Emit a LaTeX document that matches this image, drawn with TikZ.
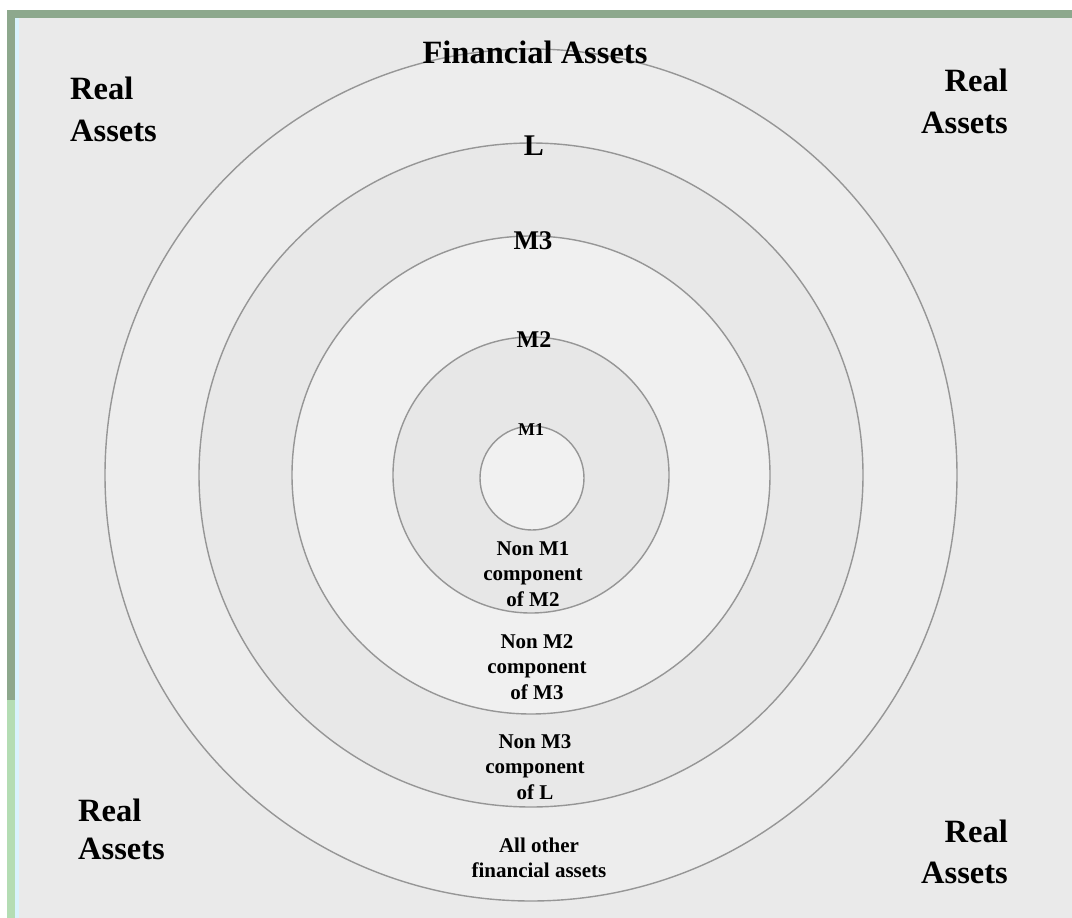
\documentclass[tikz,border=0pt]{standalone}
\usepackage{fontspec}
\setmainfont{Liberation Serif}
\definecolor{framegreen}{HTML}{8DA88D}
\definecolor{framelight}{HTML}{B4DDB4}
\definecolor{bg}{HTML}{EAEAEA}
\definecolor{ringline}{HTML}{969696}
\tikzset{
  ring/.style={draw=ringline, line width=1.4pt},
  biglabel/.style={font=\bfseries\fontsize{32.5}{40}\selectfont, inner sep=0pt},
  ringlabel/.style={font=\bfseries, inner sep=0pt},
  zonelabel/.style={font=\bfseries\fontsize{21}{25.5}\selectfont, align=center, inner sep=0pt},
}
\begin{document}
\begin{tikzpicture}[x=1pt,y=-1pt]
\useasboundingbox (0,0) rectangle (1072,918);
% frame
\fill[white] (0,0) rectangle (1072,918);
\fill[bg] (15,17) rectangle (1072,918);
\fill[framegreen] (7,10) rectangle (1072,18);
\fill[framegreen] (7,10) rectangle (15,700);
\fill[framelight] (7,700) rectangle (15,918);
\fill[white!85!cyan] (15,18) rectangle (19,918);
% rings
\coordinate (c) at (531,475);
\filldraw[ring, fill=white!93!black] (c) circle[radius=426pt];
\filldraw[ring, fill=white!91!black] (c) circle[radius=332pt];
\filldraw[ring, fill=white!94!black] (c) circle[radius=239pt];
\filldraw[ring, fill=white!90.5!black] (c) circle[radius=138pt];
\filldraw[ring, fill=white!94.5!black] (532,478) circle[radius=52pt];
% ring labels
\node[biglabel] (fin) at (535,52) {Financial Assets};
\node[ringlabel, font=\bfseries\fontsize{30}{34}\selectfont] (lL) at (534,146) {L};
\node[ringlabel, font=\bfseries\fontsize{27}{30}\selectfont] (lM3) at (533,241) {M3};
\node[ringlabel, font=\bfseries\fontsize{24}{28}\selectfont] (lM2) at (534,340) {M2};
\node[ringlabel, font=\bfseries\fontsize{18}{20}\selectfont] (lM1) at (531,430) {M1};
% zone labels
\node[zonelabel] (z2) at (533,574) {Non M1\\component\\of M2};
\node[zonelabel] (z3) at (537,667) {Non M2\\component\\of M3};
\node[zonelabel] (zL) at (535,767) {Non M3\\component\\of L};
\node[zonelabel] (zo) at (539,858) {All other\\financial assets};
% real assets
\node[biglabel, align=left, anchor=west, font=\bfseries\fontsize{32.5}{42}\selectfont] (ra1) at (70,109) {Real\\Assets};
\node[biglabel, align=right, anchor=east, font=\bfseries\fontsize{32.5}{42}\selectfont] (ra2) at (1008,101) {Real\\Assets};
\node[biglabel, align=left, anchor=west, font=\bfseries\fontsize{32.5}{38}\selectfont] (ra3) at (78,829) {Real\\Assets};
\node[biglabel, align=right, anchor=east, font=\bfseries\fontsize{32.5}{41}\selectfont] (ra4) at (1008,852) {Real\\Assets};
\end{tikzpicture}
\end{document}
